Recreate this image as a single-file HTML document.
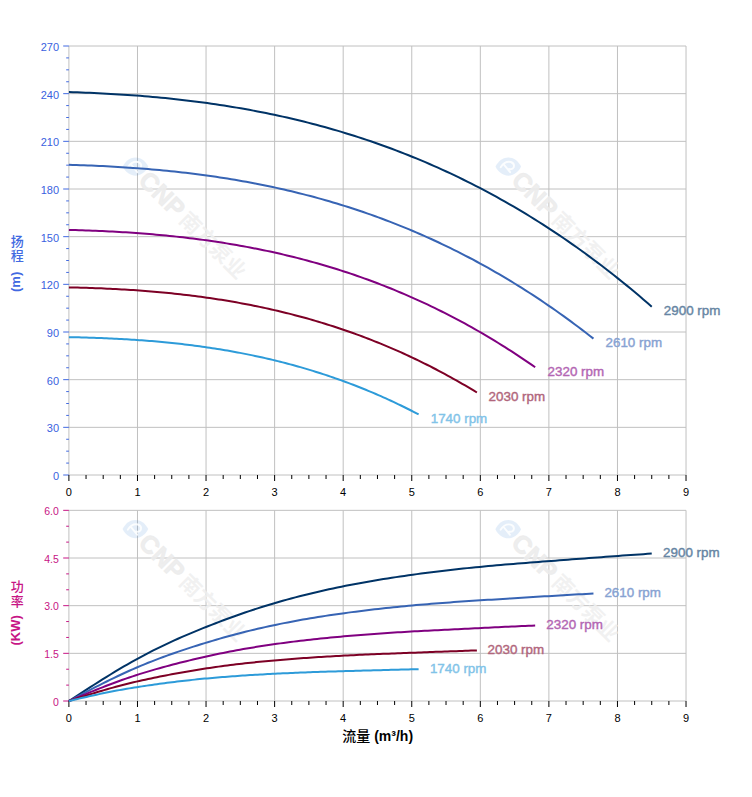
<!DOCTYPE html>
<html><head><meta charset="utf-8"><title>Pump curves</title><style>
html,body{margin:0;padding:0;background:#fff;}
body{width:752px;height:797px;overflow:hidden;}
svg{display:block;}
text{font-family:"Liberation Sans","Noto Sans CJK SC",sans-serif;}
.cjk{font-family:"Liberation Sans","Noto Sans CJK SC",sans-serif;}
</style></head><body>
<svg width="752" height="797" viewBox="0 0 752 797">
<rect width="752" height="797" fill="#fff"/>

<line x1="68.90" y1="475.00" x2="686.03" y2="475.00" stroke="#c0c0c0" stroke-width="1"/>
<line x1="68.90" y1="427.33" x2="686.03" y2="427.33" stroke="#c0c0c0" stroke-width="1"/>
<line x1="68.90" y1="379.67" x2="686.03" y2="379.67" stroke="#c0c0c0" stroke-width="1"/>
<line x1="68.90" y1="332.00" x2="686.03" y2="332.00" stroke="#c0c0c0" stroke-width="1"/>
<line x1="68.90" y1="284.33" x2="686.03" y2="284.33" stroke="#c0c0c0" stroke-width="1"/>
<line x1="68.90" y1="236.67" x2="686.03" y2="236.67" stroke="#c0c0c0" stroke-width="1"/>
<line x1="68.90" y1="189.00" x2="686.03" y2="189.00" stroke="#c0c0c0" stroke-width="1"/>
<line x1="68.90" y1="141.33" x2="686.03" y2="141.33" stroke="#c0c0c0" stroke-width="1"/>
<line x1="68.90" y1="93.67" x2="686.03" y2="93.67" stroke="#c0c0c0" stroke-width="1"/>
<line x1="68.90" y1="46.00" x2="686.03" y2="46.00" stroke="#c0c0c0" stroke-width="1"/>
<line x1="137.47" y1="46.00" x2="137.47" y2="475.00" stroke="#c0c0c0" stroke-width="1"/>
<line x1="206.04" y1="46.00" x2="206.04" y2="475.00" stroke="#c0c0c0" stroke-width="1"/>
<line x1="274.61" y1="46.00" x2="274.61" y2="475.00" stroke="#c0c0c0" stroke-width="1"/>
<line x1="343.18" y1="46.00" x2="343.18" y2="475.00" stroke="#c0c0c0" stroke-width="1"/>
<line x1="411.75" y1="46.00" x2="411.75" y2="475.00" stroke="#c0c0c0" stroke-width="1"/>
<line x1="480.32" y1="46.00" x2="480.32" y2="475.00" stroke="#c0c0c0" stroke-width="1"/>
<line x1="548.89" y1="46.00" x2="548.89" y2="475.00" stroke="#c0c0c0" stroke-width="1"/>
<line x1="617.46" y1="46.00" x2="617.46" y2="475.00" stroke="#c0c0c0" stroke-width="1"/>
<line x1="686.03" y1="46.00" x2="686.03" y2="475.00" stroke="#c0c0c0" stroke-width="1"/>
<line x1="68.90" y1="701.00" x2="686.03" y2="701.00" stroke="#c0c0c0" stroke-width="1"/>
<line x1="68.90" y1="653.33" x2="686.03" y2="653.33" stroke="#c0c0c0" stroke-width="1"/>
<line x1="68.90" y1="605.66" x2="686.03" y2="605.66" stroke="#c0c0c0" stroke-width="1"/>
<line x1="68.90" y1="558.00" x2="686.03" y2="558.00" stroke="#c0c0c0" stroke-width="1"/>
<line x1="68.90" y1="510.33" x2="686.03" y2="510.33" stroke="#c0c0c0" stroke-width="1"/>
<line x1="137.47" y1="510.33" x2="137.47" y2="701.00" stroke="#c0c0c0" stroke-width="1"/>
<line x1="206.04" y1="510.33" x2="206.04" y2="701.00" stroke="#c0c0c0" stroke-width="1"/>
<line x1="274.61" y1="510.33" x2="274.61" y2="701.00" stroke="#c0c0c0" stroke-width="1"/>
<line x1="343.18" y1="510.33" x2="343.18" y2="701.00" stroke="#c0c0c0" stroke-width="1"/>
<line x1="411.75" y1="510.33" x2="411.75" y2="701.00" stroke="#c0c0c0" stroke-width="1"/>
<line x1="480.32" y1="510.33" x2="480.32" y2="701.00" stroke="#c0c0c0" stroke-width="1"/>
<line x1="548.89" y1="510.33" x2="548.89" y2="701.00" stroke="#c0c0c0" stroke-width="1"/>
<line x1="617.46" y1="510.33" x2="617.46" y2="701.00" stroke="#c0c0c0" stroke-width="1"/>
<line x1="686.03" y1="510.33" x2="686.03" y2="701.00" stroke="#c0c0c0" stroke-width="1"/>
<line x1="68.90" y1="46.00" x2="68.90" y2="475.00" stroke="#c0c0c0" stroke-width="1"/>
<line x1="68.90" y1="510.33" x2="68.90" y2="701.00" stroke="#c0c0c0" stroke-width="1"/>
<g transform="translate(135.5 166.6)">
<path d="M-12.8 0 C-7 -12.2 7 -12.2 12.8 0 C7 12.2 -7 12.2 -12.8 0Z" fill="#4a8fd8" fill-opacity="0.15"/>
<path d="M-7.6 0.6 Q-3.5 -5.8 2.5 -4.6 Q6.6 -3.2 5.4 0.8 Q4.2 3.2 0.8 2.4 M-4.6 -2.2 L1.8 5.6" fill="none" stroke="#fff" stroke-opacity="0.85" stroke-width="1.9" stroke-linecap="round"/>
<g transform="rotate(45)" fill-opacity="0.88">
<text x="12" y="9.35" font-size="25" font-weight="bold" fill="#ececec" stroke="#ececec" stroke-opacity="0.88" stroke-width="0.9">CNP</text>
<text x="68.5" y="8.3" font-size="21" font-weight="bold" fill="#efefef" class="cjk">南方泵业</text>
</g></g>
<g transform="translate(508.3 166.6)">
<path d="M-12.8 0 C-7 -12.2 7 -12.2 12.8 0 C7 12.2 -7 12.2 -12.8 0Z" fill="#4a8fd8" fill-opacity="0.15"/>
<path d="M-7.6 0.6 Q-3.5 -5.8 2.5 -4.6 Q6.6 -3.2 5.4 0.8 Q4.2 3.2 0.8 2.4 M-4.6 -2.2 L1.8 5.6" fill="none" stroke="#fff" stroke-opacity="0.85" stroke-width="1.9" stroke-linecap="round"/>
<g transform="rotate(45)" fill-opacity="0.88">
<text x="12" y="9.35" font-size="25" font-weight="bold" fill="#ececec" stroke="#ececec" stroke-opacity="0.88" stroke-width="0.9">CNP</text>
<text x="68.5" y="8.3" font-size="21" font-weight="bold" fill="#efefef" class="cjk">南方泵业</text>
</g></g>
<g transform="translate(135.4 529.1)">
<path d="M-12.8 0 C-7 -12.2 7 -12.2 12.8 0 C7 12.2 -7 12.2 -12.8 0Z" fill="#4a8fd8" fill-opacity="0.15"/>
<path d="M-7.6 0.6 Q-3.5 -5.8 2.5 -4.6 Q6.6 -3.2 5.4 0.8 Q4.2 3.2 0.8 2.4 M-4.6 -2.2 L1.8 5.6" fill="none" stroke="#fff" stroke-opacity="0.85" stroke-width="1.9" stroke-linecap="round"/>
<g transform="rotate(45)" fill-opacity="0.88">
<text x="12" y="9.35" font-size="25" font-weight="bold" fill="#ececec" stroke="#ececec" stroke-opacity="0.88" stroke-width="0.9">CNP</text>
<text x="68.5" y="8.3" font-size="21" font-weight="bold" fill="#efefef" class="cjk">南方泵业</text>
</g></g>
<g transform="translate(508.2 529.2)">
<path d="M-12.8 0 C-7 -12.2 7 -12.2 12.8 0 C7 12.2 -7 12.2 -12.8 0Z" fill="#4a8fd8" fill-opacity="0.15"/>
<path d="M-7.6 0.6 Q-3.5 -5.8 2.5 -4.6 Q6.6 -3.2 5.4 0.8 Q4.2 3.2 0.8 2.4 M-4.6 -2.2 L1.8 5.6" fill="none" stroke="#fff" stroke-opacity="0.85" stroke-width="1.9" stroke-linecap="round"/>
<g transform="rotate(45)" fill-opacity="0.88">
<text x="12" y="9.35" font-size="25" font-weight="bold" fill="#ececec" stroke="#ececec" stroke-opacity="0.88" stroke-width="0.9">CNP</text>
<text x="68.5" y="8.3" font-size="21" font-weight="bold" fill="#efefef" class="cjk">南方泵业</text>
</g></g>
<line x1="63.20" y1="475.00" x2="68.90" y2="475.00" stroke="#4169e1" stroke-width="1"/>
<line x1="66.20" y1="463.08" x2="68.90" y2="463.08" stroke="#4169e1" stroke-width="1"/>
<line x1="66.20" y1="451.17" x2="68.90" y2="451.17" stroke="#4169e1" stroke-width="1"/>
<line x1="66.20" y1="439.25" x2="68.90" y2="439.25" stroke="#4169e1" stroke-width="1"/>
<line x1="63.20" y1="427.33" x2="68.90" y2="427.33" stroke="#4169e1" stroke-width="1"/>
<line x1="66.20" y1="415.42" x2="68.90" y2="415.42" stroke="#4169e1" stroke-width="1"/>
<line x1="66.20" y1="403.50" x2="68.90" y2="403.50" stroke="#4169e1" stroke-width="1"/>
<line x1="66.20" y1="391.58" x2="68.90" y2="391.58" stroke="#4169e1" stroke-width="1"/>
<line x1="63.20" y1="379.67" x2="68.90" y2="379.67" stroke="#4169e1" stroke-width="1"/>
<line x1="66.20" y1="367.75" x2="68.90" y2="367.75" stroke="#4169e1" stroke-width="1"/>
<line x1="66.20" y1="355.83" x2="68.90" y2="355.83" stroke="#4169e1" stroke-width="1"/>
<line x1="66.20" y1="343.92" x2="68.90" y2="343.92" stroke="#4169e1" stroke-width="1"/>
<line x1="63.20" y1="332.00" x2="68.90" y2="332.00" stroke="#4169e1" stroke-width="1"/>
<line x1="66.20" y1="320.08" x2="68.90" y2="320.08" stroke="#4169e1" stroke-width="1"/>
<line x1="66.20" y1="308.17" x2="68.90" y2="308.17" stroke="#4169e1" stroke-width="1"/>
<line x1="66.20" y1="296.25" x2="68.90" y2="296.25" stroke="#4169e1" stroke-width="1"/>
<line x1="63.20" y1="284.33" x2="68.90" y2="284.33" stroke="#4169e1" stroke-width="1"/>
<line x1="66.20" y1="272.42" x2="68.90" y2="272.42" stroke="#4169e1" stroke-width="1"/>
<line x1="66.20" y1="260.50" x2="68.90" y2="260.50" stroke="#4169e1" stroke-width="1"/>
<line x1="66.20" y1="248.58" x2="68.90" y2="248.58" stroke="#4169e1" stroke-width="1"/>
<line x1="63.20" y1="236.67" x2="68.90" y2="236.67" stroke="#4169e1" stroke-width="1"/>
<line x1="66.20" y1="224.75" x2="68.90" y2="224.75" stroke="#4169e1" stroke-width="1"/>
<line x1="66.20" y1="212.83" x2="68.90" y2="212.83" stroke="#4169e1" stroke-width="1"/>
<line x1="66.20" y1="200.92" x2="68.90" y2="200.92" stroke="#4169e1" stroke-width="1"/>
<line x1="63.20" y1="189.00" x2="68.90" y2="189.00" stroke="#4169e1" stroke-width="1"/>
<line x1="66.20" y1="177.08" x2="68.90" y2="177.08" stroke="#4169e1" stroke-width="1"/>
<line x1="66.20" y1="165.17" x2="68.90" y2="165.17" stroke="#4169e1" stroke-width="1"/>
<line x1="66.20" y1="153.25" x2="68.90" y2="153.25" stroke="#4169e1" stroke-width="1"/>
<line x1="63.20" y1="141.33" x2="68.90" y2="141.33" stroke="#4169e1" stroke-width="1"/>
<line x1="66.20" y1="129.42" x2="68.90" y2="129.42" stroke="#4169e1" stroke-width="1"/>
<line x1="66.20" y1="117.50" x2="68.90" y2="117.50" stroke="#4169e1" stroke-width="1"/>
<line x1="66.20" y1="105.58" x2="68.90" y2="105.58" stroke="#4169e1" stroke-width="1"/>
<line x1="63.20" y1="93.67" x2="68.90" y2="93.67" stroke="#4169e1" stroke-width="1"/>
<line x1="66.20" y1="81.75" x2="68.90" y2="81.75" stroke="#4169e1" stroke-width="1"/>
<line x1="66.20" y1="69.83" x2="68.90" y2="69.83" stroke="#4169e1" stroke-width="1"/>
<line x1="66.20" y1="57.92" x2="68.90" y2="57.92" stroke="#4169e1" stroke-width="1"/>
<line x1="63.20" y1="46.00" x2="68.90" y2="46.00" stroke="#4169e1" stroke-width="1"/>
<line x1="63.20" y1="701.00" x2="68.90" y2="701.00" stroke="#c71585" stroke-width="1"/>
<line x1="66.20" y1="685.11" x2="68.90" y2="685.11" stroke="#c71585" stroke-width="1"/>
<line x1="66.20" y1="669.22" x2="68.90" y2="669.22" stroke="#c71585" stroke-width="1"/>
<line x1="63.20" y1="653.33" x2="68.90" y2="653.33" stroke="#c71585" stroke-width="1"/>
<line x1="66.20" y1="637.44" x2="68.90" y2="637.44" stroke="#c71585" stroke-width="1"/>
<line x1="66.20" y1="621.55" x2="68.90" y2="621.55" stroke="#c71585" stroke-width="1"/>
<line x1="63.20" y1="605.66" x2="68.90" y2="605.66" stroke="#c71585" stroke-width="1"/>
<line x1="66.20" y1="589.78" x2="68.90" y2="589.78" stroke="#c71585" stroke-width="1"/>
<line x1="66.20" y1="573.89" x2="68.90" y2="573.89" stroke="#c71585" stroke-width="1"/>
<line x1="63.20" y1="558.00" x2="68.90" y2="558.00" stroke="#c71585" stroke-width="1"/>
<line x1="66.20" y1="542.11" x2="68.90" y2="542.11" stroke="#c71585" stroke-width="1"/>
<line x1="66.20" y1="526.22" x2="68.90" y2="526.22" stroke="#c71585" stroke-width="1"/>
<line x1="63.20" y1="510.33" x2="68.90" y2="510.33" stroke="#c71585" stroke-width="1"/>
<line x1="68.90" y1="475.00" x2="68.90" y2="481.00" stroke="#000" stroke-width="1"/>
<line x1="86.04" y1="475.00" x2="86.04" y2="479.00" stroke="#000" stroke-width="1"/>
<line x1="103.19" y1="475.00" x2="103.19" y2="479.00" stroke="#000" stroke-width="1"/>
<line x1="120.33" y1="475.00" x2="120.33" y2="479.00" stroke="#000" stroke-width="1"/>
<line x1="137.47" y1="475.00" x2="137.47" y2="481.00" stroke="#000" stroke-width="1"/>
<line x1="154.61" y1="475.00" x2="154.61" y2="479.00" stroke="#000" stroke-width="1"/>
<line x1="171.75" y1="475.00" x2="171.75" y2="479.00" stroke="#000" stroke-width="1"/>
<line x1="188.90" y1="475.00" x2="188.90" y2="479.00" stroke="#000" stroke-width="1"/>
<line x1="206.04" y1="475.00" x2="206.04" y2="481.00" stroke="#000" stroke-width="1"/>
<line x1="223.18" y1="475.00" x2="223.18" y2="479.00" stroke="#000" stroke-width="1"/>
<line x1="240.32" y1="475.00" x2="240.32" y2="479.00" stroke="#000" stroke-width="1"/>
<line x1="257.47" y1="475.00" x2="257.47" y2="479.00" stroke="#000" stroke-width="1"/>
<line x1="274.61" y1="475.00" x2="274.61" y2="481.00" stroke="#000" stroke-width="1"/>
<line x1="291.75" y1="475.00" x2="291.75" y2="479.00" stroke="#000" stroke-width="1"/>
<line x1="308.89" y1="475.00" x2="308.89" y2="479.00" stroke="#000" stroke-width="1"/>
<line x1="326.04" y1="475.00" x2="326.04" y2="479.00" stroke="#000" stroke-width="1"/>
<line x1="343.18" y1="475.00" x2="343.18" y2="481.00" stroke="#000" stroke-width="1"/>
<line x1="360.32" y1="475.00" x2="360.32" y2="479.00" stroke="#000" stroke-width="1"/>
<line x1="377.46" y1="475.00" x2="377.46" y2="479.00" stroke="#000" stroke-width="1"/>
<line x1="394.61" y1="475.00" x2="394.61" y2="479.00" stroke="#000" stroke-width="1"/>
<line x1="411.75" y1="475.00" x2="411.75" y2="481.00" stroke="#000" stroke-width="1"/>
<line x1="428.89" y1="475.00" x2="428.89" y2="479.00" stroke="#000" stroke-width="1"/>
<line x1="446.03" y1="475.00" x2="446.03" y2="479.00" stroke="#000" stroke-width="1"/>
<line x1="463.18" y1="475.00" x2="463.18" y2="479.00" stroke="#000" stroke-width="1"/>
<line x1="480.32" y1="475.00" x2="480.32" y2="481.00" stroke="#000" stroke-width="1"/>
<line x1="497.46" y1="475.00" x2="497.46" y2="479.00" stroke="#000" stroke-width="1"/>
<line x1="514.60" y1="475.00" x2="514.60" y2="479.00" stroke="#000" stroke-width="1"/>
<line x1="531.75" y1="475.00" x2="531.75" y2="479.00" stroke="#000" stroke-width="1"/>
<line x1="548.89" y1="475.00" x2="548.89" y2="481.00" stroke="#000" stroke-width="1"/>
<line x1="566.03" y1="475.00" x2="566.03" y2="479.00" stroke="#000" stroke-width="1"/>
<line x1="583.17" y1="475.00" x2="583.17" y2="479.00" stroke="#000" stroke-width="1"/>
<line x1="600.32" y1="475.00" x2="600.32" y2="479.00" stroke="#000" stroke-width="1"/>
<line x1="617.46" y1="475.00" x2="617.46" y2="481.00" stroke="#000" stroke-width="1"/>
<line x1="634.60" y1="475.00" x2="634.60" y2="479.00" stroke="#000" stroke-width="1"/>
<line x1="651.74" y1="475.00" x2="651.74" y2="479.00" stroke="#000" stroke-width="1"/>
<line x1="668.89" y1="475.00" x2="668.89" y2="479.00" stroke="#000" stroke-width="1"/>
<line x1="686.03" y1="475.00" x2="686.03" y2="481.00" stroke="#000" stroke-width="1"/>
<line x1="68.90" y1="701.00" x2="68.90" y2="707.00" stroke="#000" stroke-width="1"/>
<line x1="86.04" y1="701.00" x2="86.04" y2="705.00" stroke="#000" stroke-width="1"/>
<line x1="103.19" y1="701.00" x2="103.19" y2="705.00" stroke="#000" stroke-width="1"/>
<line x1="120.33" y1="701.00" x2="120.33" y2="705.00" stroke="#000" stroke-width="1"/>
<line x1="137.47" y1="701.00" x2="137.47" y2="707.00" stroke="#000" stroke-width="1"/>
<line x1="154.61" y1="701.00" x2="154.61" y2="705.00" stroke="#000" stroke-width="1"/>
<line x1="171.75" y1="701.00" x2="171.75" y2="705.00" stroke="#000" stroke-width="1"/>
<line x1="188.90" y1="701.00" x2="188.90" y2="705.00" stroke="#000" stroke-width="1"/>
<line x1="206.04" y1="701.00" x2="206.04" y2="707.00" stroke="#000" stroke-width="1"/>
<line x1="223.18" y1="701.00" x2="223.18" y2="705.00" stroke="#000" stroke-width="1"/>
<line x1="240.32" y1="701.00" x2="240.32" y2="705.00" stroke="#000" stroke-width="1"/>
<line x1="257.47" y1="701.00" x2="257.47" y2="705.00" stroke="#000" stroke-width="1"/>
<line x1="274.61" y1="701.00" x2="274.61" y2="707.00" stroke="#000" stroke-width="1"/>
<line x1="291.75" y1="701.00" x2="291.75" y2="705.00" stroke="#000" stroke-width="1"/>
<line x1="308.89" y1="701.00" x2="308.89" y2="705.00" stroke="#000" stroke-width="1"/>
<line x1="326.04" y1="701.00" x2="326.04" y2="705.00" stroke="#000" stroke-width="1"/>
<line x1="343.18" y1="701.00" x2="343.18" y2="707.00" stroke="#000" stroke-width="1"/>
<line x1="360.32" y1="701.00" x2="360.32" y2="705.00" stroke="#000" stroke-width="1"/>
<line x1="377.46" y1="701.00" x2="377.46" y2="705.00" stroke="#000" stroke-width="1"/>
<line x1="394.61" y1="701.00" x2="394.61" y2="705.00" stroke="#000" stroke-width="1"/>
<line x1="411.75" y1="701.00" x2="411.75" y2="707.00" stroke="#000" stroke-width="1"/>
<line x1="428.89" y1="701.00" x2="428.89" y2="705.00" stroke="#000" stroke-width="1"/>
<line x1="446.03" y1="701.00" x2="446.03" y2="705.00" stroke="#000" stroke-width="1"/>
<line x1="463.18" y1="701.00" x2="463.18" y2="705.00" stroke="#000" stroke-width="1"/>
<line x1="480.32" y1="701.00" x2="480.32" y2="707.00" stroke="#000" stroke-width="1"/>
<line x1="497.46" y1="701.00" x2="497.46" y2="705.00" stroke="#000" stroke-width="1"/>
<line x1="514.60" y1="701.00" x2="514.60" y2="705.00" stroke="#000" stroke-width="1"/>
<line x1="531.75" y1="701.00" x2="531.75" y2="705.00" stroke="#000" stroke-width="1"/>
<line x1="548.89" y1="701.00" x2="548.89" y2="707.00" stroke="#000" stroke-width="1"/>
<line x1="566.03" y1="701.00" x2="566.03" y2="705.00" stroke="#000" stroke-width="1"/>
<line x1="583.17" y1="701.00" x2="583.17" y2="705.00" stroke="#000" stroke-width="1"/>
<line x1="600.32" y1="701.00" x2="600.32" y2="705.00" stroke="#000" stroke-width="1"/>
<line x1="617.46" y1="701.00" x2="617.46" y2="707.00" stroke="#000" stroke-width="1"/>
<line x1="634.60" y1="701.00" x2="634.60" y2="705.00" stroke="#000" stroke-width="1"/>
<line x1="651.74" y1="701.00" x2="651.74" y2="705.00" stroke="#000" stroke-width="1"/>
<line x1="668.89" y1="701.00" x2="668.89" y2="705.00" stroke="#000" stroke-width="1"/>
<line x1="686.03" y1="701.00" x2="686.03" y2="707.00" stroke="#000" stroke-width="1"/>
<path d="M68.90 92.10L73.09 92.23L77.29 92.37L81.48 92.52L85.67 92.68L89.87 92.85L94.06 93.03L98.25 93.23L102.45 93.44L106.64 93.66L110.83 93.89L115.02 94.13L119.22 94.39L123.41 94.66L127.60 94.94L131.80 95.24L135.99 95.55L140.18 95.87L144.38 96.21L148.57 96.56L152.76 96.93L156.96 97.31L161.15 97.70L165.34 98.11L169.54 98.54L173.73 98.98L177.92 99.44L182.11 99.91L186.31 100.40L190.50 100.91L194.69 101.43L198.89 101.97L203.08 102.53L207.27 103.10L211.47 103.69L215.66 104.30L219.85 104.93L224.05 105.57L228.24 106.24L232.43 106.92L236.63 107.62L240.82 108.34L245.01 109.08L249.20 109.84L253.40 110.62L257.59 111.41L261.78 112.23L265.98 113.07L270.17 113.93L274.36 114.81L278.56 115.71L282.75 116.63L286.94 117.58L291.14 118.54L295.33 119.53L299.52 120.54L303.72 121.57L307.91 122.63L312.10 123.70L316.29 124.80L320.49 125.93L324.68 127.08L328.87 128.25L333.07 129.44L337.26 130.66L341.45 131.90L345.65 133.17L349.84 134.46L354.03 135.78L358.23 137.12L362.42 138.49L366.61 139.88L370.81 141.30L375.00 142.74L379.19 144.21L383.38 145.71L387.58 147.24L391.77 148.79L395.96 150.37L400.16 151.97L404.35 153.61L408.54 155.27L412.74 156.96L416.93 158.67L421.12 160.42L425.32 162.19L429.51 164.00L433.70 165.83L437.90 167.69L442.09 169.58L446.28 171.50L450.47 173.45L454.67 175.44L458.86 177.45L463.05 179.49L467.25 181.56L471.44 183.67L475.63 185.80L479.83 187.97L484.02 190.17L488.21 192.40L492.41 194.66L496.60 196.96L500.79 199.29L504.99 201.65L509.18 204.04L513.37 206.47L517.56 208.93L521.76 211.42L525.95 213.95L530.14 216.51L534.34 219.11L538.53 221.74L542.72 224.41L546.92 227.11L551.11 229.84L555.30 232.62L559.50 235.42L563.69 238.27L567.88 241.15L572.08 244.06L576.27 247.02L580.46 250.00L584.65 253.03L588.85 256.09L593.04 259.19L597.23 262.33L601.43 265.51L605.62 268.72L609.81 271.98L614.01 275.27L618.20 278.60L622.39 281.97L626.59 285.37L630.78 288.82L634.97 292.31L639.17 295.83L643.36 299.40L647.55 303.01L651.74 306.66" fill="none" stroke="#003366" stroke-width="2" stroke-linejoin="round"/>
<path d="M68.90 701.00L73.09 698.27L77.29 695.55L81.48 692.83L85.67 690.12L89.87 687.43L94.06 684.75L98.25 682.09L102.45 679.45L106.64 676.84L110.83 674.26L115.02 671.70L119.22 669.19L123.41 666.71L127.60 664.28L131.80 661.89L135.99 659.55L140.18 657.26L144.38 655.02L148.57 652.83L152.76 650.69L156.96 648.60L161.15 646.55L165.34 644.54L169.54 642.58L173.73 640.65L177.92 638.77L182.11 636.91L186.31 635.10L190.50 633.31L194.69 631.56L198.89 629.84L203.08 628.14L207.27 626.47L211.47 624.82L215.66 623.20L219.85 621.60L224.05 620.03L228.24 618.49L232.43 616.97L236.63 615.47L240.82 614.00L245.01 612.56L249.20 611.15L253.40 609.76L257.59 608.40L261.78 607.06L265.98 605.76L270.17 604.48L274.36 603.23L278.56 602.00L282.75 600.81L286.94 599.64L291.14 598.50L295.33 597.38L299.52 596.30L303.72 595.23L307.91 594.19L312.10 593.17L316.29 592.18L320.49 591.21L324.68 590.27L328.87 589.34L333.07 588.44L337.26 587.56L341.45 586.69L345.65 585.85L349.84 585.03L354.03 584.22L358.23 583.44L362.42 582.67L366.61 581.92L370.81 581.19L375.00 580.47L379.19 579.77L383.38 579.09L387.58 578.42L391.77 577.77L395.96 577.13L400.16 576.50L404.35 575.89L408.54 575.29L412.74 574.70L416.93 574.13L421.12 573.57L425.32 573.02L429.51 572.48L433.70 571.95L437.90 571.43L442.09 570.93L446.28 570.44L450.47 569.95L454.67 569.48L458.86 569.02L463.05 568.57L467.25 568.13L471.44 567.71L475.63 567.29L479.83 566.88L484.02 566.48L488.21 566.09L492.41 565.71L496.60 565.34L500.79 564.98L504.99 564.62L509.18 564.27L513.37 563.93L517.56 563.59L521.76 563.25L525.95 562.92L530.14 562.59L534.34 562.26L538.53 561.94L542.72 561.62L546.92 561.30L551.11 560.97L555.30 560.65L559.50 560.33L563.69 560.01L567.88 559.68L572.08 559.36L576.27 559.04L580.46 558.72L584.65 558.40L588.85 558.08L593.04 557.77L597.23 557.45L601.43 557.14L605.62 556.83L609.81 556.52L614.01 556.21L618.20 555.91L622.39 555.61L626.59 555.31L630.78 555.01L634.97 554.72L639.17 554.43L643.36 554.13L647.55 553.84L651.74 553.55" fill="none" stroke="#003366" stroke-width="2" stroke-linejoin="round"/>
<path d="M68.90 164.85L72.67 164.95L76.45 165.07L80.22 165.19L84.00 165.32L87.77 165.46L91.54 165.61L95.32 165.77L99.09 165.93L102.86 166.11L106.64 166.30L110.41 166.50L114.19 166.70L117.96 166.92L121.73 167.15L125.51 167.39L129.28 167.64L133.05 167.90L136.83 168.18L140.60 168.46L144.38 168.76L148.15 169.07L151.92 169.39L155.70 169.72L159.47 170.07L163.25 170.42L167.02 170.79L170.79 171.18L174.57 171.57L178.34 171.98L182.11 172.41L185.89 172.84L189.66 173.30L193.44 173.76L197.21 174.24L200.98 174.73L204.76 175.24L208.53 175.76L212.31 176.30L216.08 176.85L219.85 177.42L223.63 178.00L227.40 178.60L231.17 179.22L234.95 179.85L238.72 180.49L242.50 181.16L246.27 181.84L250.04 182.53L253.82 183.25L257.59 183.98L261.36 184.72L265.14 185.49L268.91 186.27L272.69 187.07L276.46 187.89L280.23 188.72L284.01 189.58L287.78 190.45L291.56 191.34L295.33 192.25L299.10 193.18L302.88 194.13L306.65 195.10L310.42 196.08L314.20 197.09L317.97 198.12L321.75 199.16L325.52 200.23L329.29 201.32L333.07 202.42L336.84 203.55L340.61 204.70L344.39 205.87L348.16 207.06L351.94 208.28L355.71 209.51L359.48 210.77L363.26 212.05L367.03 213.35L370.81 214.67L374.58 216.02L378.35 217.38L382.13 218.78L385.90 220.19L389.67 221.63L393.45 223.09L397.22 224.57L401.00 226.08L404.77 227.61L408.54 229.17L412.32 230.75L416.09 232.35L419.86 233.98L423.64 235.64L427.41 237.32L431.19 239.02L434.96 240.75L438.73 242.51L442.51 244.29L446.28 246.09L450.06 247.93L453.83 249.79L457.60 251.67L461.38 253.58L465.15 255.52L468.92 257.49L472.70 259.48L476.47 261.50L480.25 263.55L484.02 265.63L487.79 267.73L491.57 269.86L495.34 272.02L499.12 274.21L502.89 276.42L506.66 278.67L510.44 280.94L514.21 283.25L517.98 285.58L521.76 287.94L525.53 290.33L529.31 292.75L533.08 295.20L536.85 297.69L540.63 300.20L544.40 302.74L548.17 305.31L551.95 307.92L555.72 310.55L559.50 313.22L563.27 315.91L567.04 318.64L570.82 321.40L574.59 324.19L578.37 327.02L582.14 329.88L585.91 332.77L589.69 335.69L593.46 338.64" fill="none" stroke="#3764b4" stroke-width="2" stroke-linejoin="round"/>
<path d="M68.90 701.00L72.67 699.01L76.45 697.03L80.22 695.04L84.00 693.07L87.77 691.10L91.54 689.15L95.32 687.21L99.09 685.29L102.86 683.39L106.64 681.50L110.41 679.64L114.19 677.81L117.96 676.01L121.73 674.23L125.51 672.49L129.28 670.78L133.05 669.11L136.83 667.48L140.60 665.89L144.38 664.33L148.15 662.80L151.92 661.31L155.70 659.84L159.47 658.41L163.25 657.01L167.02 655.63L170.79 654.28L174.57 652.96L178.34 651.66L182.11 650.38L185.89 649.12L189.66 647.88L193.44 646.67L197.21 645.47L200.98 644.28L204.76 643.12L208.53 641.97L212.31 640.85L216.08 639.74L219.85 638.65L223.63 637.58L227.40 636.53L231.17 635.50L234.95 634.48L238.72 633.49L242.50 632.52L246.27 631.57L250.04 630.64L253.82 629.72L257.59 628.83L261.36 627.96L265.14 627.11L268.91 626.28L272.69 625.46L276.46 624.67L280.23 623.89L284.01 623.14L287.78 622.40L291.56 621.67L295.33 620.97L299.10 620.27L302.88 619.60L306.65 618.94L310.42 618.30L314.20 617.67L317.97 617.06L321.75 616.46L325.52 615.87L329.29 615.30L333.07 614.74L336.84 614.19L340.61 613.66L344.39 613.14L348.16 612.63L351.94 612.13L355.71 611.64L359.48 611.16L363.26 610.70L367.03 610.24L370.81 609.79L374.58 609.36L378.35 608.93L382.13 608.51L385.90 608.10L389.67 607.70L393.45 607.31L397.22 606.92L401.00 606.55L404.77 606.18L408.54 605.82L412.32 605.47L416.09 605.12L419.86 604.79L423.64 604.46L427.41 604.14L431.19 603.83L434.96 603.52L438.73 603.23L442.51 602.94L446.28 602.65L450.06 602.38L453.83 602.11L457.60 601.84L461.38 601.58L465.15 601.32L468.92 601.07L472.70 600.83L476.47 600.58L480.25 600.34L484.02 600.10L487.79 599.86L491.57 599.63L495.34 599.39L499.12 599.16L502.89 598.92L506.66 598.69L510.44 598.45L514.21 598.21L517.98 597.98L521.76 597.75L525.53 597.51L529.31 597.28L533.08 597.05L536.85 596.81L540.63 596.58L544.40 596.35L548.17 596.13L551.95 595.90L555.72 595.67L559.50 595.45L563.27 595.23L567.04 595.01L570.82 594.79L574.59 594.58L578.37 594.36L582.14 594.15L585.91 593.93L589.69 593.72L593.46 593.51" fill="none" stroke="#3764b4" stroke-width="2" stroke-linejoin="round"/>
<path d="M68.90 229.94L72.25 230.03L75.61 230.11L78.96 230.21L82.32 230.31L85.67 230.42L89.03 230.54L92.38 230.67L95.74 230.80L99.09 230.94L102.45 231.09L105.80 231.24L109.15 231.41L112.51 231.58L115.86 231.76L119.22 231.95L122.57 232.15L125.93 232.36L129.28 232.57L132.64 232.80L135.99 233.03L139.34 233.28L142.70 233.53L146.05 233.79L149.41 234.06L152.76 234.35L156.12 234.64L159.47 234.94L162.83 235.26L166.18 235.58L169.54 235.91L172.89 236.26L176.24 236.62L179.60 236.98L182.95 237.36L186.31 237.75L189.66 238.15L193.02 238.57L196.37 238.99L199.73 239.43L203.08 239.88L206.43 240.34L209.79 240.81L213.14 241.30L216.50 241.79L219.85 242.30L223.21 242.83L226.56 243.37L229.92 243.92L233.27 244.48L236.63 245.06L239.98 245.65L243.33 246.25L246.69 246.87L250.04 247.50L253.40 248.15L256.75 248.81L260.11 249.48L263.46 250.17L266.82 250.88L270.17 251.59L273.52 252.33L276.88 253.08L280.23 253.84L283.59 254.62L286.94 255.42L290.30 256.23L293.65 257.05L297.01 257.90L300.36 258.76L303.72 259.63L307.07 260.52L310.42 261.43L313.78 262.36L317.13 263.30L320.49 264.26L323.84 265.23L327.20 266.22L330.55 267.23L333.91 268.26L337.26 269.31L340.61 270.37L343.97 271.45L347.32 272.55L350.68 273.67L354.03 274.80L357.39 275.96L360.74 277.13L364.10 278.32L367.45 279.53L370.81 280.76L374.16 282.01L377.51 283.28L380.87 284.57L384.22 285.87L387.58 287.20L390.93 288.55L394.29 289.91L397.64 291.30L401.00 292.71L404.35 294.14L407.70 295.58L411.06 297.05L414.41 298.54L417.77 300.05L421.12 301.59L424.48 303.14L427.83 304.71L431.19 306.31L434.54 307.93L437.90 309.57L441.25 311.23L444.60 312.91L447.96 314.62L451.31 316.35L454.67 318.10L458.02 319.87L461.38 321.67L464.73 323.49L468.09 325.33L471.44 327.20L474.79 329.09L478.15 331.00L481.50 332.94L484.86 334.90L488.21 336.88L491.57 338.89L494.92 340.93L498.28 342.98L501.63 345.06L504.99 347.17L508.34 349.30L511.69 351.46L515.05 353.64L518.40 355.85L521.76 358.08L525.11 360.33L528.47 362.62L531.82 364.93L535.18 367.26" fill="none" stroke="#800080" stroke-width="2" stroke-linejoin="round"/>
<path d="M68.90 701.00L72.25 699.60L75.61 698.21L78.96 696.82L82.32 695.43L85.67 694.05L89.03 692.68L92.38 691.32L95.74 689.97L99.09 688.63L102.45 687.31L105.80 686.00L109.15 684.71L112.51 683.45L115.86 682.20L119.22 680.98L122.57 679.78L125.93 678.60L129.28 677.46L132.64 676.34L135.99 675.24L139.34 674.17L142.70 673.12L146.05 672.09L149.41 671.09L152.76 670.10L156.12 669.14L159.47 668.19L162.83 667.26L166.18 666.34L169.54 665.45L172.89 664.56L176.24 663.70L179.60 662.84L182.95 662.00L186.31 661.17L189.66 660.35L193.02 659.54L196.37 658.75L199.73 657.97L203.08 657.21L206.43 656.46L209.79 655.72L213.14 655.00L216.50 654.28L219.85 653.59L223.21 652.90L226.56 652.24L229.92 651.58L233.27 650.94L236.63 650.31L239.98 649.70L243.33 649.10L246.69 648.52L250.04 647.95L253.40 647.39L256.75 646.85L260.11 646.31L263.46 645.79L266.82 645.29L270.17 644.79L273.52 644.30L276.88 643.83L280.23 643.37L283.59 642.92L286.94 642.47L290.30 642.04L293.65 641.62L297.01 641.21L300.36 640.81L303.72 640.42L307.07 640.03L310.42 639.66L313.78 639.29L317.13 638.93L320.49 638.58L323.84 638.24L327.20 637.90L330.55 637.58L333.91 637.26L337.26 636.94L340.61 636.64L343.97 636.34L347.32 636.04L350.68 635.75L354.03 635.47L357.39 635.20L360.74 634.93L364.10 634.66L367.45 634.40L370.81 634.15L374.16 633.90L377.51 633.66L380.87 633.43L384.22 633.20L387.58 632.97L390.93 632.75L394.29 632.54L397.64 632.33L401.00 632.13L404.35 631.93L407.70 631.73L411.06 631.54L414.41 631.36L417.77 631.17L421.12 630.99L424.48 630.82L427.83 630.64L431.19 630.47L434.54 630.30L437.90 630.13L441.25 629.97L444.60 629.80L447.96 629.64L451.31 629.47L454.67 629.31L458.02 629.14L461.38 628.98L464.73 628.81L468.09 628.65L471.44 628.48L474.79 628.32L478.15 628.15L481.50 627.99L484.86 627.83L488.21 627.66L491.57 627.50L494.92 627.34L498.28 627.18L501.63 627.03L504.99 626.87L508.34 626.71L511.69 626.56L515.05 626.41L518.40 626.26L521.76 626.10L525.11 625.95L528.47 625.80L531.82 625.65L535.18 625.50" fill="none" stroke="#800080" stroke-width="2" stroke-linejoin="round"/>
<path d="M68.90 287.38L71.84 287.44L74.77 287.51L77.71 287.58L80.64 287.66L83.58 287.75L86.51 287.84L89.45 287.93L92.38 288.03L95.32 288.14L98.25 288.26L101.19 288.37L104.12 288.50L107.06 288.63L109.99 288.77L112.93 288.92L115.86 289.07L118.80 289.23L121.73 289.39L124.67 289.56L127.60 289.74L130.54 289.93L133.47 290.12L136.41 290.33L139.34 290.53L142.28 290.75L145.21 290.97L148.15 291.21L151.09 291.45L154.02 291.69L156.96 291.95L159.89 292.21L162.83 292.49L165.76 292.77L168.70 293.06L171.63 293.36L174.57 293.66L177.50 293.98L180.44 294.31L183.37 294.64L186.31 294.98L189.24 295.34L192.18 295.70L195.11 296.07L198.05 296.45L200.98 296.84L203.92 297.24L206.85 297.65L209.79 298.08L212.72 298.51L215.66 298.95L218.59 299.40L221.53 299.86L224.47 300.34L227.40 300.82L230.34 301.32L233.27 301.82L236.21 302.34L239.14 302.87L242.08 303.40L245.01 303.95L247.95 304.52L250.88 305.09L253.82 305.68L256.75 306.27L259.69 306.88L262.62 307.50L265.56 308.14L268.49 308.78L271.43 309.44L274.36 310.11L277.30 310.79L280.23 311.49L283.17 312.19L286.10 312.92L289.04 313.65L291.97 314.40L294.91 315.16L297.84 315.93L300.78 316.72L303.72 317.52L306.65 318.33L309.59 319.16L312.52 320.00L315.46 320.86L318.39 321.72L321.33 322.61L324.26 323.51L327.20 324.42L330.13 325.35L333.07 326.29L336.00 327.24L338.94 328.21L341.87 329.20L344.81 330.20L347.74 331.22L350.68 332.25L353.61 333.29L356.55 334.36L359.48 335.43L362.42 336.53L365.35 337.63L368.29 338.76L371.22 339.90L374.16 341.06L377.10 342.23L380.03 343.42L382.97 344.62L385.90 345.85L388.84 347.09L391.77 348.34L394.71 349.61L397.64 350.90L400.58 352.21L403.51 353.53L406.45 354.87L409.38 356.23L412.32 357.61L415.25 359.00L418.19 360.41L421.12 361.84L424.06 363.29L426.99 364.75L429.93 366.23L432.86 367.74L435.80 369.26L438.73 370.79L441.67 372.35L444.60 373.92L447.54 375.52L450.47 377.13L453.41 378.76L456.35 380.41L459.28 382.08L462.22 383.77L465.15 385.48L468.09 387.21L471.02 388.96L473.96 390.72L476.89 392.51" fill="none" stroke="#7d0025" stroke-width="2" stroke-linejoin="round"/>
<path d="M68.90 701.00L71.84 700.06L74.77 699.13L77.71 698.20L80.64 697.27L83.58 696.34L86.51 695.43L89.45 694.51L92.38 693.61L95.32 692.71L98.25 691.83L101.19 690.95L104.12 690.09L107.06 689.24L109.99 688.40L112.93 687.59L115.86 686.78L118.80 686.00L121.73 685.23L124.67 684.48L127.60 683.74L130.54 683.03L133.47 682.32L136.41 681.64L139.34 680.96L142.28 680.30L145.21 679.65L148.15 679.02L151.09 678.40L154.02 677.78L156.96 677.18L159.89 676.59L162.83 676.01L165.76 675.44L168.70 674.87L171.63 674.31L174.57 673.77L177.50 673.23L180.44 672.70L183.37 672.18L186.31 671.66L189.24 671.16L192.18 670.67L195.11 670.18L198.05 669.70L200.98 669.24L203.92 668.78L206.85 668.33L209.79 667.89L212.72 667.46L215.66 667.04L218.59 666.63L221.53 666.23L224.47 665.84L227.40 665.46L230.34 665.09L233.27 664.72L236.21 664.36L239.14 664.02L242.08 663.68L245.01 663.34L247.95 663.02L250.88 662.70L253.82 662.39L256.75 662.09L259.69 661.79L262.62 661.50L265.56 661.22L268.49 660.95L271.43 660.68L274.36 660.41L277.30 660.16L280.23 659.90L283.17 659.66L286.10 659.42L289.04 659.18L291.97 658.96L294.91 658.73L297.84 658.51L300.78 658.30L303.72 658.09L306.65 657.88L309.59 657.68L312.52 657.48L315.46 657.29L318.39 657.10L321.33 656.92L324.26 656.74L327.20 656.56L330.13 656.39L333.07 656.22L336.00 656.05L338.94 655.89L341.87 655.73L344.81 655.58L347.74 655.43L350.68 655.28L353.61 655.14L356.55 655.00L359.48 654.86L362.42 654.73L365.35 654.60L368.29 654.47L371.22 654.34L374.16 654.22L377.10 654.10L380.03 653.98L382.97 653.87L385.90 653.75L388.84 653.64L391.77 653.53L394.71 653.41L397.64 653.30L400.58 653.19L403.51 653.08L406.45 652.97L409.38 652.86L412.32 652.75L415.25 652.64L418.19 652.53L421.12 652.42L424.06 652.31L426.99 652.20L429.93 652.09L432.86 651.98L435.80 651.87L438.73 651.76L441.67 651.66L444.60 651.55L447.54 651.44L450.47 651.34L453.41 651.23L456.35 651.13L459.28 651.03L462.22 650.93L465.15 650.83L468.09 650.72L471.02 650.62L473.96 650.52L476.89 650.42" fill="none" stroke="#7d0025" stroke-width="2" stroke-linejoin="round"/>
<path d="M68.90 337.16L71.42 337.20L73.93 337.25L76.45 337.31L78.96 337.36L81.48 337.43L84.00 337.49L86.51 337.56L89.03 337.64L91.54 337.72L94.06 337.80L96.57 337.89L99.09 337.98L101.61 338.08L104.12 338.18L106.64 338.29L109.15 338.40L111.67 338.51L114.19 338.63L116.70 338.76L119.22 338.89L121.73 339.03L124.25 339.17L126.77 339.32L129.28 339.47L131.80 339.63L134.31 339.80L136.83 339.97L139.34 340.14L141.86 340.33L144.38 340.51L146.89 340.71L149.41 340.91L151.92 341.12L154.44 341.33L156.96 341.55L159.47 341.77L161.99 342.01L164.50 342.24L167.02 342.49L169.54 342.74L172.05 343.00L174.57 343.27L177.08 343.54L179.60 343.82L182.11 344.11L184.63 344.40L187.15 344.71L189.66 345.01L192.18 345.33L194.69 345.66L197.21 345.99L199.73 346.33L202.24 346.68L204.76 347.03L207.27 347.39L209.79 347.77L212.31 348.15L214.82 348.53L217.34 348.93L219.85 349.33L222.37 349.75L224.88 350.17L227.40 350.60L229.92 351.04L232.43 351.48L234.95 351.94L237.46 352.41L239.98 352.88L242.50 353.36L245.01 353.86L247.53 354.36L250.04 354.87L252.56 355.39L255.07 355.92L257.59 356.46L260.11 357.01L262.62 357.56L265.14 358.13L267.65 358.71L270.17 359.30L272.69 359.90L275.20 360.50L277.72 361.12L280.23 361.75L282.75 362.39L285.27 363.04L287.78 363.70L290.30 364.37L292.81 365.05L295.33 365.74L297.84 366.44L300.36 367.16L302.88 367.88L305.39 368.62L307.91 369.36L310.42 370.12L312.94 370.89L315.46 371.67L317.97 372.46L320.49 373.26L323.00 374.08L325.52 374.90L328.04 375.74L330.55 376.59L333.07 377.45L335.58 378.33L338.10 379.21L340.61 380.11L343.13 381.02L345.65 381.94L348.16 382.88L350.68 383.83L353.19 384.79L355.71 385.76L358.23 386.74L360.74 387.74L363.26 388.75L365.77 389.78L368.29 390.81L370.81 391.86L373.32 392.93L375.84 394.00L378.35 395.09L380.87 396.19L383.38 397.31L385.90 398.44L388.42 399.58L390.93 400.74L393.45 401.91L395.96 403.10L398.48 404.29L401.00 405.51L403.51 406.73L406.03 407.98L408.54 409.23L411.06 410.50L413.58 411.78L416.09 413.08L418.61 414.40" fill="none" stroke="#2d9bd9" stroke-width="2" stroke-linejoin="round"/>
<path d="M68.90 701.00L71.42 700.41L73.93 699.82L76.45 699.24L78.96 698.65L81.48 698.07L84.00 697.49L86.51 696.91L89.03 696.35L91.54 695.78L94.06 695.22L96.57 694.67L99.09 694.13L101.61 693.59L104.12 693.07L106.64 692.55L109.15 692.05L111.67 691.55L114.19 691.07L116.70 690.60L119.22 690.13L121.73 689.68L124.25 689.24L126.77 688.81L129.28 688.38L131.80 687.97L134.31 687.56L136.83 687.16L139.34 686.77L141.86 686.38L144.38 686.00L146.89 685.63L149.41 685.26L151.92 684.90L154.44 684.55L156.96 684.20L159.47 683.85L161.99 683.51L164.50 683.18L167.02 682.85L169.54 682.53L172.05 682.21L174.57 681.90L177.08 681.59L179.60 681.29L182.11 681.00L184.63 680.71L187.15 680.43L189.66 680.15L192.18 679.88L194.69 679.62L197.21 679.36L199.73 679.11L202.24 678.86L204.76 678.62L207.27 678.38L209.79 678.15L212.31 677.93L214.82 677.71L217.34 677.50L219.85 677.29L222.37 677.08L224.88 676.88L227.40 676.69L229.92 676.50L232.43 676.31L234.95 676.13L237.46 675.95L239.98 675.78L242.50 675.61L245.01 675.44L247.53 675.28L250.04 675.12L252.56 674.97L255.07 674.82L257.59 674.67L260.11 674.52L262.62 674.38L265.14 674.24L267.65 674.11L270.17 673.98L272.69 673.85L275.20 673.72L277.72 673.60L280.23 673.47L282.75 673.36L285.27 673.24L287.78 673.13L290.30 673.01L292.81 672.90L295.33 672.80L297.84 672.69L300.36 672.59L302.88 672.49L305.39 672.40L307.91 672.30L310.42 672.21L312.94 672.12L315.46 672.03L317.97 671.94L320.49 671.86L323.00 671.78L325.52 671.70L328.04 671.62L330.55 671.54L333.07 671.47L335.58 671.39L338.10 671.32L340.61 671.25L343.13 671.17L345.65 671.10L348.16 671.03L350.68 670.96L353.19 670.89L355.71 670.82L358.23 670.75L360.74 670.68L363.26 670.61L365.77 670.55L368.29 670.48L370.81 670.41L373.32 670.34L375.84 670.27L378.35 670.20L380.87 670.13L383.38 670.06L385.90 669.99L388.42 669.93L390.93 669.86L393.45 669.79L395.96 669.73L398.48 669.66L401.00 669.60L403.51 669.53L406.03 669.47L408.54 669.40L411.06 669.34L413.58 669.28L416.09 669.21L418.61 669.15" fill="none" stroke="#2d9bd9" stroke-width="2" stroke-linejoin="round"/>
<text x="59.1" y="480.05" font-size="11" fill="#3a5fe0" text-anchor="end">0</text>
<text x="59.1" y="432.38" font-size="11" fill="#3a5fe0" text-anchor="end">30</text>
<text x="59.1" y="384.72" font-size="11" fill="#3a5fe0" text-anchor="end">60</text>
<text x="59.1" y="337.05" font-size="11" fill="#3a5fe0" text-anchor="end">90</text>
<text x="59.1" y="289.38" font-size="11" fill="#3a5fe0" text-anchor="end">120</text>
<text x="59.1" y="241.72" font-size="11" fill="#3a5fe0" text-anchor="end">150</text>
<text x="59.1" y="194.05" font-size="11" fill="#3a5fe0" text-anchor="end">180</text>
<text x="59.1" y="146.38" font-size="11" fill="#3a5fe0" text-anchor="end">210</text>
<text x="59.1" y="98.72" font-size="11" fill="#3a5fe0" text-anchor="end">240</text>
<text x="59.1" y="51.05" font-size="11" fill="#3a5fe0" text-anchor="end">270</text>
<text x="58.8" y="705.70" font-size="10.5" fill="#c71585" text-anchor="end">0</text>
<text x="58.8" y="658.03" font-size="10.5" fill="#c71585" text-anchor="end">1.5</text>
<text x="58.8" y="610.37" font-size="10.5" fill="#c71585" text-anchor="end">3.0</text>
<text x="58.8" y="562.70" font-size="10.5" fill="#c71585" text-anchor="end">4.5</text>
<text x="58.8" y="515.03" font-size="10.5" fill="#c71585" text-anchor="end">6.0</text>
<text x="68.90" y="496" font-size="11" fill="#000" text-anchor="middle">0</text>
<text x="68.90" y="722" font-size="11" fill="#000" text-anchor="middle">0</text>
<text x="137.47" y="496" font-size="11" fill="#000" text-anchor="middle">1</text>
<text x="137.47" y="722" font-size="11" fill="#000" text-anchor="middle">1</text>
<text x="206.04" y="496" font-size="11" fill="#000" text-anchor="middle">2</text>
<text x="206.04" y="722" font-size="11" fill="#000" text-anchor="middle">2</text>
<text x="274.61" y="496" font-size="11" fill="#000" text-anchor="middle">3</text>
<text x="274.61" y="722" font-size="11" fill="#000" text-anchor="middle">3</text>
<text x="343.18" y="496" font-size="11" fill="#000" text-anchor="middle">4</text>
<text x="343.18" y="722" font-size="11" fill="#000" text-anchor="middle">4</text>
<text x="411.75" y="496" font-size="11" fill="#000" text-anchor="middle">5</text>
<text x="411.75" y="722" font-size="11" fill="#000" text-anchor="middle">5</text>
<text x="480.32" y="496" font-size="11" fill="#000" text-anchor="middle">6</text>
<text x="480.32" y="722" font-size="11" fill="#000" text-anchor="middle">6</text>
<text x="548.89" y="496" font-size="11" fill="#000" text-anchor="middle">7</text>
<text x="548.89" y="722" font-size="11" fill="#000" text-anchor="middle">7</text>
<text x="617.46" y="496" font-size="11" fill="#000" text-anchor="middle">8</text>
<text x="617.46" y="722" font-size="11" fill="#000" text-anchor="middle">8</text>
<text x="686.03" y="496" font-size="11" fill="#000" text-anchor="middle">9</text>
<text x="686.03" y="722" font-size="11" fill="#000" text-anchor="middle">9</text>
<text x="17.2" y="246" font-size="13" font-weight="500" fill="#4169e1" text-anchor="middle" class="cjk">扬</text>
<text x="17.2" y="260.4" font-size="13" font-weight="500" fill="#4169e1" text-anchor="middle" class="cjk">程</text>
<text transform="translate(19.7 281.9) rotate(-90)" font-size="13" font-weight="bold" fill="#4169e1" text-anchor="middle">(m)</text>
<text x="17.2" y="590.8" font-size="13" font-weight="500" fill="#c71585" text-anchor="middle" class="cjk">功</text>
<text x="17.2" y="605.8" font-size="13" font-weight="500" fill="#c71585" text-anchor="middle" class="cjk">率</text>
<text transform="translate(19.7 630.3) rotate(-90)" font-size="13" font-weight="bold" fill="#c71585" text-anchor="middle">(KW)</text>
<text x="377.7" y="741" font-size="14" font-weight="bold" fill="#000" text-anchor="middle" class="cjk"><tspan font-weight="500">流量</tspan> (m³/h)</text>
<text x="663.8" y="314.9" font-size="13.4" fill="#6685a3" stroke="#6685a3" stroke-width="0.4">2900 rpm</text>
<text x="663.1" y="556.8" font-size="13.4" fill="#6685a3" stroke="#6685a3" stroke-width="0.4">2900 rpm</text>
<text x="605.5" y="346.6" font-size="13.4" fill="#87a2d2" stroke="#87a2d2" stroke-width="0.4">2610 rpm</text>
<text x="604.4" y="597.0" font-size="13.4" fill="#87a2d2" stroke="#87a2d2" stroke-width="0.4">2610 rpm</text>
<text x="547.6" y="375.5" font-size="13.4" fill="#b366b3" stroke="#b366b3" stroke-width="0.4">2320 rpm</text>
<text x="546.3" y="628.8" font-size="13.4" fill="#b366b3" stroke="#b366b3" stroke-width="0.4">2320 rpm</text>
<text x="488.6" y="400.5" font-size="13.4" fill="#b1667c" stroke="#b1667c" stroke-width="0.4">2030 rpm</text>
<text x="487.6" y="653.5" font-size="13.4" fill="#b1667c" stroke="#b1667c" stroke-width="0.4">2030 rpm</text>
<text x="430.7" y="422.5" font-size="13.4" fill="#81c3e8" stroke="#81c3e8" stroke-width="0.4">1740 rpm</text>
<text x="429.9" y="672.8" font-size="13.4" fill="#81c3e8" stroke="#81c3e8" stroke-width="0.4">1740 rpm</text>
</svg>
</body></html>
